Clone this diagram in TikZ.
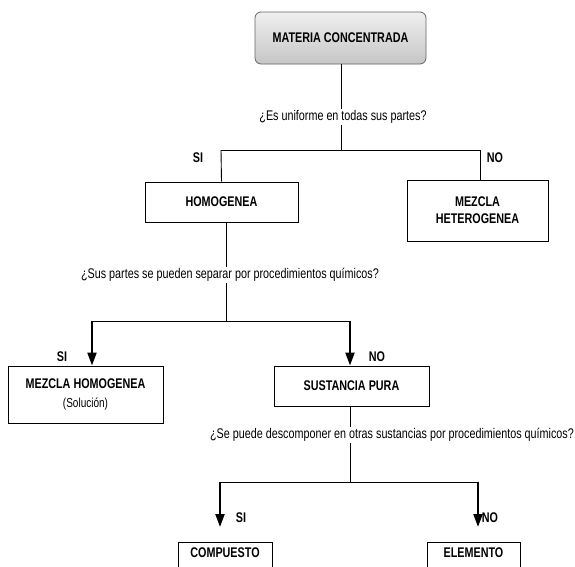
\documentclass[tikz,border=0pt]{standalone}
\usepackage{fontspec}
\setmainfont[FakeStretch=0.77]{Liberation Sans}
\usetikzlibrary{arrows.meta}
\begin{document}
\begin{tikzpicture}[x=1pt,y=-1pt,
  box/.style={draw=black,line width=1pt,fill=white,inner sep=0pt,align=center,font=\fontsize{14}{17}\selectfont\bfseries},
  quest/.style={fill=white,inner sep=1.5pt,font=\fontsize{14}{16}\selectfont},
  lbl/.style={inner sep=0pt,font=\fontsize{14}{16}\selectfont\bfseries},
  conn/.style={line width=0.9pt},
  arr/.style={line width=2.2pt,-{Triangle[length=13pt,width=9pt]}}]
\clip (0,0) rectangle (575,566);
\fill[white] (0,0) rectangle (575,566);
% root
\node[draw=gray!80!black,line width=0.8pt,rounded corners=6pt,top color=gray!12,bottom color=gray!45,
  minimum width=171,minimum height=52,inner sep=0pt,font=\fontsize{14}{16}\selectfont\bfseries]
  (mat) at (340.5,38) {MATERIA CONCENTRADA};
% first question
\coordinate (j1) at (341,150);
\coordinate (j1l) at (221,150);
\coordinate (j1r) at (480,150);
\node[box,minimum width=153,minimum height=40] (hom) at (221.5,202) {HOMOGENEA};
\node[box,minimum width=141,minimum height=61] (het) at (477.5,210.5) {MEZCLA\\HETEROGENEA};
\draw[conn] (mat.south -| j1) -- (j1);
\node[quest] (q1) at (343,117) {¿Es uniforme en todas sus partes?};
\draw[conn] (j1l) -- (j1r);
\draw[conn] (j1l) -- (hom.north);
\draw[conn] (j1r) -- (het.north -| j1r);
\node[lbl] (si1) at (198,158) {SI};
\node[lbl] (no1) at (495,158) {NO};
% second question
\coordinate (h2) at (226,222);
\coordinate (j2) at (226,321);
\coordinate (j2l) at (92,321);
\coordinate (j2r) at (350,321);
\node[box,minimum width=155,minimum height=57] (mh) at (85.5,394.5)
  {MEZCLA HOMOGENEA\\[2pt]{\mdseries\fontsize{13}{15}\selectfont (Solución)}};
\node[box,minimum width=155,minimum height=40] (sp) at (351.5,386) {SUSTANCIA PURA};
\draw[conn] (h2) -- (j2);
\node[quest] (q2) at (230,275) {¿Sus partes se pueden separar por procedimientos químicos?};
\draw[conn] (j2l) -- (j2r);
\draw[arr] (j2l) -- (mh.north -| j2l);
\draw[arr] (j2r) -- (sp.north -| j2r);
\node[lbl] (si2) at (62,357) {SI};
\node[lbl] (no2) at (377,357) {NO};
% third question
\coordinate (j3) at (350,482);
\coordinate (j3l) at (220,482);
\coordinate (j3r) at (478,482);
\coordinate (a3l) at (220,527);
\coordinate (a3r) at (478,527);
\node[box,minimum width=94,text height=12pt,text depth=28pt,inner ysep=3pt,anchor=north] (comp) at (225,542) {COMPUESTO};
\node[box,minimum width=93,text height=12pt,text depth=28pt,inner ysep=3pt,anchor=north] (elem) at (473.5,542) {ELEMENTO};
\draw[conn] (sp.south -| j3) -- (j3);
\node[quest] (q3) at (392,435) {¿Se puede descomponer en otras sustancias por procedimientos químicos?};
\draw[conn] (j3l) -- (j3r);
\draw[arr] (j3l) -- (a3l);
\draw[arr] (j3r) -- (a3r);
\node[lbl] (si3) at (241,518) {SI};
\node[lbl] (no3) at (490,518) {NO};
\end{tikzpicture}
\end{document}
